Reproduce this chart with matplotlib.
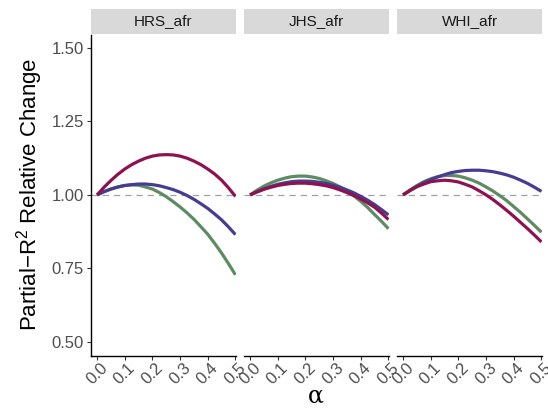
import matplotlib
matplotlib.use("Agg")
import matplotlib.pyplot as plt
import matplotlib.transforms as mtransforms

plt.rcParams["font.family"] = ["Liberation Sans", "DejaVu Sans"]
plt.rcParams["mathtext.fontset"] = "custom"
plt.rcParams["mathtext.rm"] = "Liberation Sans"

# Datos
alpha = [0.0, 0.025, 0.05, 0.075, 0.1, 0.125, 0.15, 0.175, 0.2, 0.225, 0.25,
         0.275, 0.3, 0.325, 0.35, 0.375, 0.4, 0.425, 0.45, 0.475, 0.5]
paneles = ["HRS_afr", "JHS_afr", "WHI_afr"]

hrs_green = [1.000, 1.011, 1.020, 1.027, 1.032, 1.034, 1.033, 1.027, 1.020, 1.008, 0.994,
             0.977, 0.959, 0.939, 0.917, 0.892, 0.866, 0.835, 0.802, 0.766, 0.728]
hrs_blue = [1.000, 1.011, 1.020, 1.027, 1.032, 1.035, 1.037, 1.037, 1.035, 1.031, 1.025,
            1.018, 1.009, 0.998, 0.985, 0.970, 0.954, 0.935, 0.915, 0.891, 0.865]
hrs_red = [1.000, 1.026, 1.049, 1.070, 1.088, 1.103, 1.115, 1.125, 1.132, 1.136, 1.137,
           1.136, 1.132, 1.125, 1.115, 1.103, 1.088, 1.071, 1.050, 1.024, 0.995]

jhs_green = [1.000, 1.016, 1.030, 1.041, 1.050, 1.057, 1.062, 1.064, 1.064, 1.061, 1.056,
             1.048, 1.039, 1.027, 1.013, 0.997, 0.978, 0.957, 0.933, 0.910, 0.885]
jhs_blue = [1.000, 1.011, 1.021, 1.029, 1.036, 1.041, 1.045, 1.047, 1.047, 1.046, 1.043,
            1.039, 1.033, 1.026, 1.017, 1.007, 0.995, 0.982, 0.967, 0.950, 0.932]
jhs_red = [1.000, 1.010, 1.019, 1.026, 1.032, 1.036, 1.039, 1.040, 1.040, 1.038, 1.035,
           1.031, 1.025, 1.017, 1.008, 0.998, 0.986, 0.973, 0.958, 0.938, 0.916]

whi_green = [1.000, 1.017, 1.032, 1.045, 1.055, 1.062, 1.066, 1.066, 1.064, 1.058, 1.050,
             1.040, 1.027, 1.013, 0.997, 0.980, 0.960, 0.940, 0.918, 0.896, 0.873]
whi_blue = [1.000, 1.015, 1.029, 1.042, 1.052, 1.061, 1.069, 1.076, 1.080, 1.083, 1.084,
            1.084, 1.082, 1.079, 1.074, 1.068, 1.060, 1.050, 1.039, 1.026, 1.012]
whi_red = [1.000, 1.015, 1.028, 1.037, 1.045, 1.048, 1.050, 1.048, 1.044, 1.036, 1.027,
           1.014, 1.000, 0.984, 0.966, 0.947, 0.927, 0.906, 0.885, 0.863, 0.840]

series = {
    "HRS_afr": (hrs_green, hrs_blue, hrs_red),
    "JHS_afr": (jhs_green, jhs_blue, jhs_red),
    "WHI_afr": (whi_green, whi_blue, whi_red),
}
colores = ["#5E8C62", "#473C92", "#8E1250"]

xticks = [0.0, 0.1, 0.2, 0.3, 0.4, 0.5]
yticks = [0.50, 0.75, 1.00, 1.25, 1.50]

W, H = 548, 412
fig = plt.figure(figsize=(W / 100, H / 100), dpi=100)

izq = [91, 244, 397]
ancho = 145
top, bottom = 35, 356

for k, nombre in enumerate(paneles):
    ax = fig.add_axes([izq[k] / W, 1 - bottom / H, ancho / W, (bottom - top) / H])
    ax.axhline(1.0, color="#A0A0A0", lw=0.9, ls=(0, (5, 4)), zorder=1)
    for vals, c in zip(series[nombre], colores):
        ax.plot(alpha, vals, color=c, lw=2.3, solid_capstyle="butt",
                solid_joinstyle="round", zorder=2)
    ax.set_xlim(-0.022, 0.502)
    ax.set_ylim(0.452, 1.544)
    for s in ["top", "right"]:
        ax.spines[s].set_visible(False)
    ax.spines["bottom"].set_linewidth(1.0)
    ax.spines["bottom"].set_color("black")
    ax.set_xticks(xticks)
    ax.set_xticklabels([f"{t:.1f}" for t in xticks], rotation=45,
                       ha="center", va="top", fontsize=12, color="#4D4D4D")
    off = mtransforms.ScaledTranslation(5 / 100, 0, fig.dpi_scale_trans)
    for lab in ax.get_xticklabels():
        lab.set_transform(lab.get_transform() + off)
    ax.tick_params(axis="x", length=3, width=0.8, color="#333333", pad=0)
    if k == 0:
        ax.spines["left"].set_linewidth(1.0)
        ax.spines["left"].set_color("black")
        ax.set_yticks(yticks)
        ax.set_yticklabels([f"{t:.2f}" for t in yticks], fontsize=12, color="#4D4D4D")
        ax.tick_params(axis="y", length=3, width=0.8, color="#333333", pad=2)
    else:
        ax.spines["left"].set_visible(False)
        ax.set_yticks([])

    # franja del panel
    sax = fig.add_axes([izq[k] / W, 1 - 34 / H, ancho / W, 25 / H])
    sax.set_facecolor("#D9D9D9")
    sax.set_xticks([])
    sax.set_yticks([])
    for s in sax.spines.values():
        s.set_visible(False)
    sax.text(0.5, 0.5, nombre, ha="center", va="center", fontsize=11, color="#1A1A1A",
             transform=sax.transAxes)

fig.text(30 / W, 1 - 194 / H, r"Partial$-$R$^{\mathregular{2}}$ Relative Change",
         rotation=90, ha="center", va="center", fontsize=16, color="black")
fig.text(316 / W, 1 - 396 / H, "α", ha="center", va="center", fontsize=17,
         family="DejaVu Serif", color="black")

fig.savefig("out.png", dpi=100)
